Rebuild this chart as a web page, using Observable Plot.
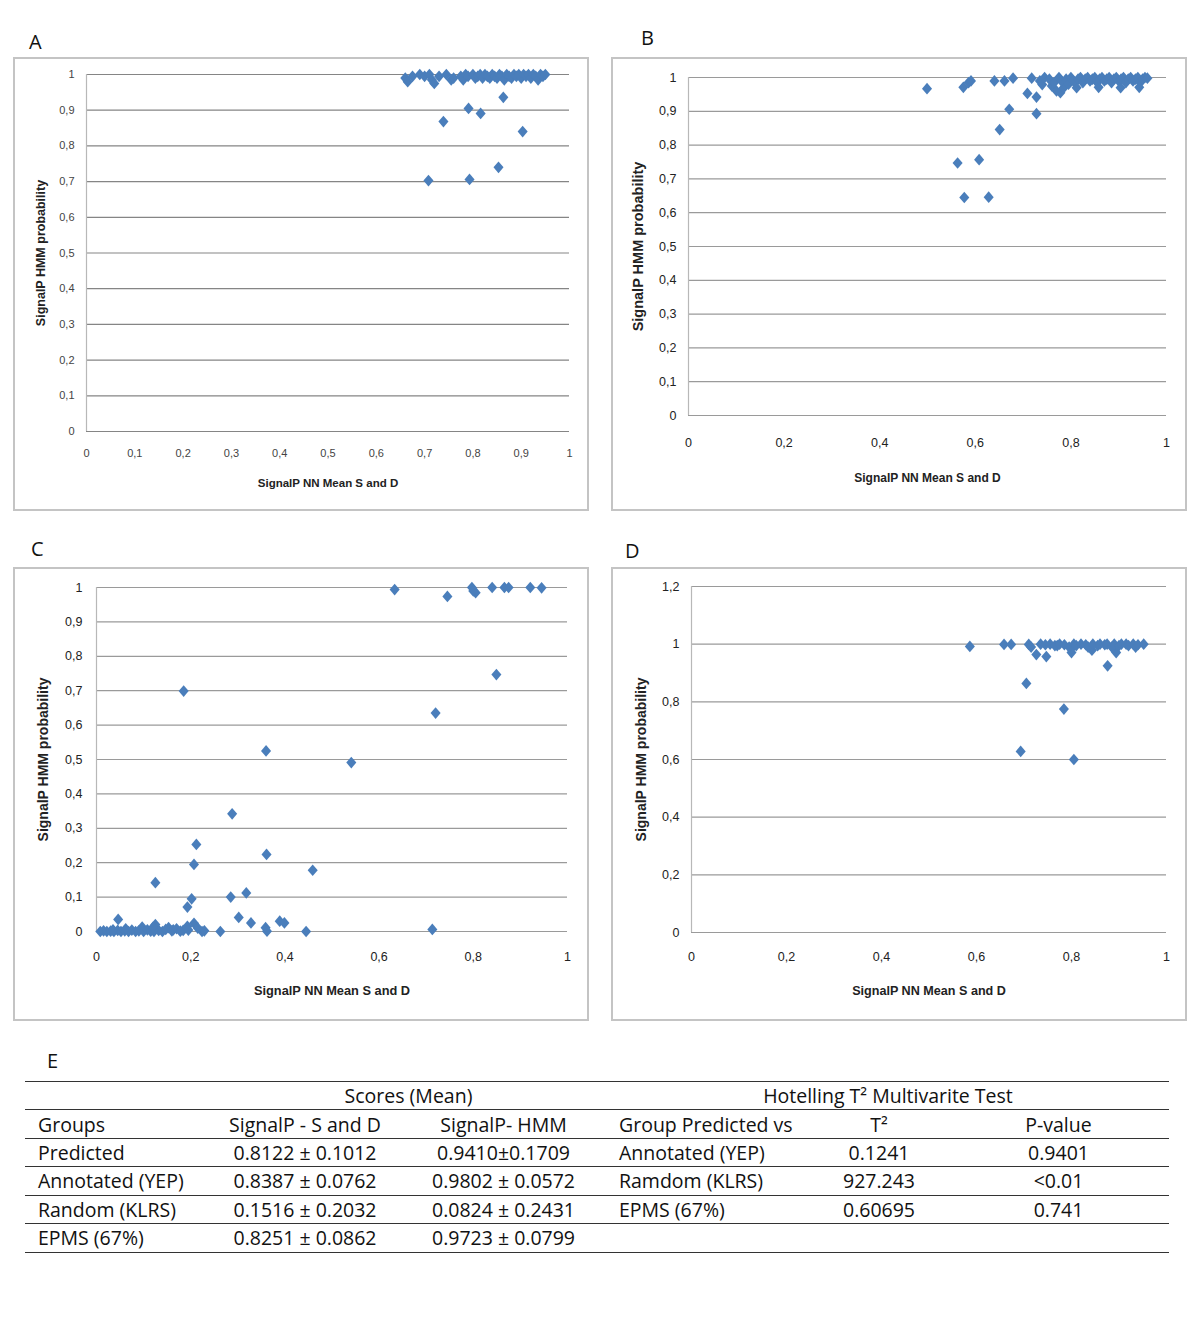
<!DOCTYPE html>
<html><head><meta charset="utf-8">
<script src="https://cdn.jsdelivr.net/npm/d3@7"></script>
<script src="https://cdn.jsdelivr.net/npm/@observablehq/plot@0.6"></script>
<style>
body{margin:0;background:#fff;}
#page{position:relative;width:1200px;height:1327px;background:#fff;overflow:hidden;}
.box{position:absolute;border:2px solid #c4c4c4;box-sizing:border-box;}
.panel{position:absolute;width:574px;height:452px;}
.letter{position:absolute;font-family:"Open Sans",sans-serif;font-size:20px;line-height:1;color:#111;}
.trow{position:absolute;left:25px;width:1144px;height:28.4px;border-top:1.5px solid #333;box-sizing:border-box;font-family:"Open Sans",sans-serif;font-size:19.5px;color:#111;}
.cell{position:absolute;top:0;height:100%;display:flex;align-items:center;white-space:nowrap;}
</style></head><body><div id="page"></div>
<script>
// ---------- DATA ----------
const A_x = [0.708,0.793,0.739,0.791,0.816,0.863,0.903,0.853,
  0.66,0.665,0.675,0.69,0.70,0.71,0.715,0.72,0.73,0.745,0.755,0.76,0.775,0.78,0.785,0.79,0.80,0.805,0.81,0.815,0.82,0.825,0.83,0.835,0.84,0.845,0.85,0.855,0.86,0.865,0.87,0.875,0.88,0.885,0.89,0.895,0.90,0.905,0.91,0.915,0.92,0.925,0.93,0.935,0.94,0.945,0.95];
const A_y = [0.703,0.706,0.868,0.905,0.891,0.936,0.840,0.740,
  0.99,0.98,0.995,1,0.995,1,0.985,0.975,0.995,1,0.985,0.99,0.995,0.985,1,0.995,1,0.99,0.995,1,0.99,1,0.995,0.99,1,0.995,0.99,1,0.995,0.985,1,0.995,0.99,1,0.995,1,0.99,1,0.995,1,0.99,1,0.995,0.985,1,0.995,1];

const B_x = [0.499,0.575,0.586,0.591,0.640,0.661,0.679,0.718,0.709,0.728,0.728,0.671,0.651,0.608,0.563,0.577,0.628,0.740,0.778,0.812,0.858,0.904,0.943,0.76,0.77,0.785,
  0.735,0.745,0.755,0.765,0.775,0.78,0.79,0.795,0.80,0.805,0.815,0.82,0.825,0.83,0.835,0.84,0.845,0.85,0.855,0.86,0.865,0.87,0.875,0.88,0.885,0.89,0.895,0.90,0.905,0.91,0.915,0.92,0.925,0.93,0.935,0.94,0.945,0.95,0.955,0.96];
const B_y = [0.967,0.971,0.985,0.99,0.99,0.99,0.998,0.998,0.953,0.942,0.893,0.906,0.846,0.757,0.747,0.645,0.646,0.979,0.955,0.97,0.971,0.97,0.971,0.975,0.96,0.97,
  0.99,1,0.995,0.985,1,0.99,0.995,0.98,1,0.99,0.995,1,0.985,0.995,1,0.99,0.995,1,0.985,0.995,1,0.99,0.995,1,0.985,0.995,1,0.99,0.995,1,0.985,0.995,1,0.99,0.995,1,0.985,0.995,1,0.998];

const C_x = [0.185,0.360,0.288,0.361,0.212,0.207,0.459,0.125,0.318,0.285,0.202,0.193,0.302,0.046,0.328,0.389,0.399,0.359,0.362,0.445,0.263,0.224,0.229,0.207,0.193,0.184,0.153,0.163,0.125,0.097,0.541,0.713,
  0.633,0.745,0.797,0.805,0.80,0.840,0.866,0.875,0.921,0.945,0.849,0.720,
  0.008,0.015,0.022,0.03,0.037,0.045,0.052,0.06,0.068,0.075,0.083,0.09,0.10,0.108,0.115,0.122,0.132,0.14,0.147,0.16,0.17,0.178,0.195,0.215,0.12,0.062,0.035];
const C_y = [0.699,0.525,0.342,0.224,0.253,0.195,0.178,0.142,0.112,0.100,0.095,0.071,0.041,0.035,0.025,0.030,0.025,0.011,0.001,0,0,0,0.002,0.024,0.015,0.003,0.011,0.005,0.02,0.013,0.491,0.006,
  0.994,0.974,1.0,0.985,0.99,1.0,1.0,1.0,1.0,0.999,0.747,0.635,
  0,0.002,0,0.001,0,0.003,0,0.002,0,0.004,0,0.002,0,0.005,0.001,0,0.003,0,0.006,0.002,0.008,0.001,0.004,0.01,0.012,0.008,0.005];

const D_x = [0.586,0.658,0.673,0.710,0.715,0.726,0.747,0.705,0.784,0.693,0.805,0.876,0.800,0.843,0.894,0.935,0.77,0.80,
  0.735,0.745,0.755,0.765,0.775,0.785,0.795,0.805,0.81,0.82,0.83,0.835,0.845,0.855,0.86,0.87,0.875,0.885,0.89,0.90,0.905,0.915,0.92,0.93,0.94,0.952];
const D_y = [0.992,0.999,0.999,0.999,0.99,0.964,0.957,0.864,0.775,0.628,0.600,0.925,0.971,0.979,0.971,0.99,0.995,0.985,
  1,0.998,1,0.995,1,0.998,0.99,1,0.995,1,0.998,0.99,1,0.995,1,0.998,1,0.99,1,0.995,1,1,0.995,1,0.998,1];

const ticks01 = [0,0.1,0.2,0.3,0.4,0.5,0.6,0.7,0.8,0.9,1];
const ticks02 = [0,0.2,0.4,0.6,0.8,1];
const ticksD = [0,0.2,0.4,0.6,0.8,1,1.2];
const xTitle = "SignalP NN Mean S and D";
const yTitle = "SignalP HMM probability";
const letters = [["A",29,32],["B",641,28],["C",31,539],["D",625,541],["E",47,1051]];

// table
const tableSpanHeads = ["Scores (Mean)", "Hotelling T² Multivarite Test"];
const tableHeads = ["Groups","SignalP - S and D","SignalP- HMM","Group Predicted vs","T²","P-value"];
const tableRows = [
  ["Predicted","0.8122 ± 0.1012","0.9410±0.1709","Annotated (YEP)","0.1241","0.9401"],
  ["Annotated (YEP)","0.8387 ± 0.0762","0.9802 ± 0.0572","Ramdom (KLRS)","927.243","<0.01"],
  ["Random (KLRS)","0.1516 ± 0.2032","0.0824 ± 0.2431","EPMS (67%)","0.60695","0.741"],
  ["EPMS (67%)","0.8251 ± 0.0862","0.9723 ± 0.0799","","",""]
];

// ---------- DRAW ----------
const page = document.getElementById("page");
const fmt = d => String(d).replace(".", ",");
const zip = (xs, ys) => xs.map((x, i) => ({x, y: ys[i]}));
// Excel-like diamond marker (slightly taller than wide)
const excelDiamond = {draw(ctx, size) {
  const h = Math.sqrt(size) * 0.66, w = h * 0.86;
  ctx.moveTo(0, -h); ctx.lineTo(w, 0); ctx.lineTo(0, h); ctx.lineTo(-w, 0); ctx.closePath();
}};

const panels = [
  {data: zip(A_x, A_y), left:14, top:58, ml:72, mr:19, mt:16, mb:79, xTicks:ticks01, yTicks:ticks01, yDomain:[0,1],
   tickFont:"'Liberation Sans Narrow','Liberation Sans',sans-serif", tickSize:11, tickColor:"#444", xPad:18, yPad:12,
   grid:"#858585", axisLine:"#b8b8b8", xDy:52, yDx:-46, xTS:11.5, yTS:12.5},
  {data: zip(B_x, B_y), left:612, top:58, ml:76, mr:20, mt:19, mb:95, xTicks:ticks02, yTicks:ticks01, yDomain:[0,1],
   tickFont:"'Liberation Sans',Arial,sans-serif", tickSize:12.5, tickColor:"#222", xPad:23, yPad:12,
   grid:"#9a9a9a", axisLine:"#b8b8b8", xDy:63, yDx:-50, xTS:12, yTS:14.5},
  {data: zip(C_x, C_y), left:14, top:568, ml:82, mr:21, mt:19, mb:89, xTicks:ticks02, yTicks:ticks01, yDomain:[0,1],
   tickFont:"'Liberation Sans',Arial,sans-serif", tickSize:12.5, tickColor:"#222", xPad:21, yPad:14,
   grid:"#9a9a9a", axisLine:"#b8b8b8", xDy:59, yDx:-53, xTS:12.8, yTS:14},
  {data: zip(D_x, D_y), left:612, top:568, ml:79, mr:20, mt:18, mb:88, xTicks:ticks02, yTicks:ticksD, yDomain:[0,1.2],
   tickFont:"'Liberation Sans',Arial,sans-serif", tickSize:12.5, tickColor:"#222", xPad:20, yPad:12,
   grid:"#9a9a9a", axisLine:"#b8b8b8", xDy:58, yDx:-50, xTS:12.6, yTS:14}
];

for (const p of panels) {
  const box = document.createElement("div");
  box.className = "box";
  Object.assign(box.style, {left:(p.left-1)+"px", top:(p.top-1)+"px", width:"576px", height:"454px"});
  page.appendChild(box);

  const chart = Plot.plot({
    width: 574, height: 452,
    marginLeft: p.ml, marginRight: p.mr, marginTop: p.mt, marginBottom: p.mb,
    style: {background: "transparent", fontFamily: p.tickFont, fontSize: p.tickSize + "px", color: p.tickColor, overflow: "visible"},
    x: {domain: [0, 1], ticks: p.xTicks, tickFormat: fmt, tickSize: 0, tickPadding: p.xPad, label: null},
    y: {domain: p.yDomain, ticks: p.yTicks, tickFormat: fmt, tickSize: 0, tickPadding: p.yPad, label: null},
    marks: [
      Plot.ruleY(p.yTicks, {stroke: p.grid, strokeWidth: 1.2}),
      Plot.ruleX([0], {stroke: p.axisLine, strokeWidth: 1.2}),
      Plot.dot(p.data, {x: "x", y: "y", symbol: excelDiamond, r: 5, fill: "#4a7ebb", stroke: "none"}),
      Plot.text([xTitle], {text: d => d, frameAnchor: "bottom", textAnchor: "middle", lineAnchor: "middle", dy: p.xDy, fontWeight: "bold", fontSize: p.xTS, fill: "#222", fontFamily: "'Liberation Sans',Arial,sans-serif"}),
      Plot.text([yTitle], {text: d => d, frameAnchor: "left", textAnchor: "middle", lineAnchor: "middle", dx: p.yDx, rotate: -90, fontWeight: "bold", fontSize: p.yTS, fill: "#222", fontFamily: "'Liberation Sans',Arial,sans-serif"})
    ]
  });
  const wrap = document.createElement("div");
  wrap.className = "panel";
  Object.assign(wrap.style, {left: p.left + "px", top: p.top + "px"});
  wrap.appendChild(chart);
  page.appendChild(wrap);
}

for (const [t, x, y] of letters) {
  const d = document.createElement("div");
  d.className = "letter";
  d.textContent = t;
  Object.assign(d.style, {left: x + "px", top: y + "px"});
  page.appendChild(d);
}

// table
const cols = [
  {x:0, w:185, align:"left", pad:13},
  {x:185, w:190, align:"center"},
  {x:375, w:207, align:"center"},
  {x:582, w:183, align:"left", pad:12},
  {x:765, w:178, align:"center"},
  {x:943, w:181, align:"center"}
];
const rowTop0 = 1081, rowH = 28.4;
function addCell(row, text, x, w, align, pad) {
  const c = document.createElement("div");
  c.className = "cell";
  c.textContent = text;
  Object.assign(c.style, {left: x + "px", width: w + "px", justifyContent: align === "left" ? "flex-start" : "center", paddingLeft: (pad || 0) + "px", boxSizing: "border-box"});
  row.appendChild(c);
}
const allRows = [null, tableHeads, ...tableRows];
allRows.forEach((r, i) => {
  const row = document.createElement("div");
  row.className = "trow";
  row.style.top = (rowTop0 + i * rowH) + "px";
  if (i === allRows.length - 1) { row.style.borderBottom = "1.5px solid #333"; row.style.height = (rowH + 1.5) + "px"; }
  if (r === null) {
    addCell(row, tableSpanHeads[0], 185, 397, "center");
    addCell(row, tableSpanHeads[1], 582, 562, "center");
  } else {
    r.forEach((t, j) => addCell(row, t, cols[j].x, cols[j].w, cols[j].align, cols[j].pad));
  }
  page.appendChild(row);
});
</script></body></html>
